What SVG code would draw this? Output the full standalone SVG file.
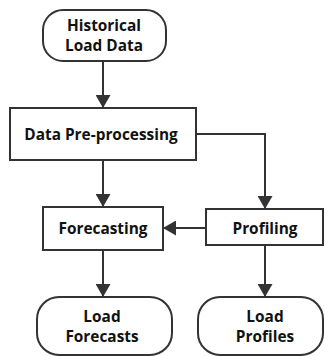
<svg xmlns="http://www.w3.org/2000/svg" width="325" height="356" viewBox="0 0 325 356">
  <style>
    .box { fill: #ffffff; stroke: #333333; stroke-width: 2; }
    .edge { fill: none; stroke: #333333; stroke-width: 2; }
    .label { font-family: "Open Sans", "Noto Sans", "DejaVu Sans", sans-serif; font-weight: bold; font-size: 15.4px; fill: #111111; text-anchor: middle; }
  </style>
  <defs>
    <marker id="arrow" viewBox="0 0 13 15" refX="13" refY="7.5" markerWidth="13" markerHeight="15" markerUnits="userSpaceOnUse" orient="auto">
      <path d="M0,0 L13,7.5 L0,15 Z" fill="#333333"/>
    </marker>
  </defs>

  <g id="connectors">
    <path class="edge" d="M103,61 L103,108" marker-end="url(#arrow)"/>
    <path class="edge" d="M103,160 L103,207" marker-end="url(#arrow)"/>
    <path class="edge" d="M196,134 L265,134 L265,209" marker-end="url(#arrow)"/>
    <path class="edge" d="M206,228 L163,228" marker-end="url(#arrow)"/>
    <path class="edge" d="M103,250 L103,297" marker-end="url(#arrow)"/>
    <path class="edge" d="M265,245 L265,297" marker-end="url(#arrow)"/>
  </g>

  <g id="historical-load-data">
    <rect class="box" x="43" y="10" width="123" height="51" rx="20" ry="20"/>
    <text class="label" x="104" y="31">Historical</text>
    <text class="label" x="104" y="51">Load Data</text>
  </g>

  <g id="data-preprocessing">
    <rect class="box" x="10" y="108" width="186" height="52"/>
    <text class="label" x="101" y="140">Data Pre-processing</text>
  </g>

  <g id="forecasting">
    <rect class="box" x="43" y="207" width="120" height="43"/>
    <text class="label" x="103" y="234">Forecasting</text>
  </g>

  <g id="profiling">
    <rect class="box" x="206" y="209" width="117" height="36"/>
    <text class="label" x="265" y="234">Profiling</text>
  </g>

  <g id="load-forecasts">
    <rect class="box" x="37" y="297" width="135" height="58" rx="22" ry="22"/>
    <text class="label" x="102" y="322">Load</text>
    <text class="label" x="102" y="342">Forecasts</text>
  </g>

  <g id="load-profiles">
    <rect class="box" x="198" y="297" width="125" height="58" rx="22" ry="22"/>
    <text class="label" x="265" y="322">Load</text>
    <text class="label" x="265" y="342">Profiles</text>
  </g>
</svg>
